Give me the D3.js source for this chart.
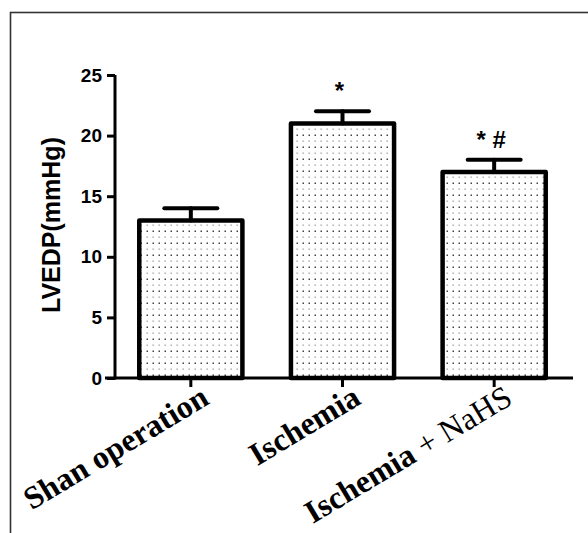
<!DOCTYPE html>
<html>
<head>
<meta charset="utf-8">
<script src="https://cdn.jsdelivr.net/npm/d3@7"></script>
<style>
  body { margin: 0; background: #fff; }
  svg { display: block; }
</style>
</head>
<body>
<div id="chart"></div>
<script>
"use strict";

var groups = ["Shan operation", "Ischemia", "Ischemia + NaHS"];
var means = [13, 21, 17];
var sems = [1, 1, 1];
var marks = ["", "*", "* #"];
var yTicks = [0, 5, 10, 15, 20, 25];

var w = 588,
  h = 533;

var svg = d3.select("#chart").append("svg")
  .attr("width", w)
  .attr("height", h);

//dotted fill like the prism bars
var defs = svg.append("defs");
var pat = defs.append("pattern")
  .attr("id", "dots")
  .attr("patternUnits", "userSpaceOnUse")
  .attr("width", 6)
  .attr("height", 12);
pat.append("rect").attr("width", 6).attr("height", 12).attr("fill", "#fff");
pat.append("rect").attr("x", 2.5).attr("y", 2.5).attr("width", 1.5).attr("height", 1.5).attr("fill", "#444");
pat.append("rect").attr("x", 2.5).attr("y", 8.5).attr("width", 1.3).attr("height", 1.3).attr("fill", "#999");

//outer frame
svg.append("rect")
  .attr("x", 10.5)
  .attr("y", 12.5)
  .attr("width", 600)
  .attr("height", 600)
  .attr("fill", "none")
  .attr("stroke", "#333")
  .attr("stroke-width", 1.6);

var x0 = 115, x1 = 570, yBase = 378, yTop = 75;

var x = d3.scaleBand().domain(groups).range([x0, x1]).paddingInner(0.32).paddingOuter(0.16);
var y = d3.scaleLinear().domain([0, 25]).range([yBase, yTop]);

//bars
svg.append("g").selectAll("rect")
  .data(groups)
  .enter().append("rect")
  .attr("x", function(d) { return x(d); })
  .attr("y", function(d, i) { return y(means[i]); })
  .attr("width", x.bandwidth())
  .attr("height", function(d, i) { return yBase - y(means[i]); })
  .attr("fill", "url(#dots)")
  .attr("stroke", "#000")
  .attr("stroke-width", 4.5)
  .attr("stroke-linejoin", "round");

//error bars (upper only)
var capW = 53;
var eb = svg.append("g").attr("stroke", "#000").attr("stroke-width", 4).attr("stroke-linecap", "round");
groups.forEach(function(d, i) {
  var cx = x(d) + x.bandwidth() / 2;
  eb.append("line")
    .attr("x1", cx).attr("x2", cx)
    .attr("y1", y(means[i])).attr("y2", y(means[i] + sems[i]));
  eb.append("line")
    .attr("x1", cx - capW / 2).attr("x2", cx + capW / 2)
    .attr("y1", y(means[i] + sems[i])).attr("y2", y(means[i] + sems[i]));
});

//significance marks
svg.append("g").selectAll("text")
  .data(groups)
  .enter().append("text")
  .attr("x", function(d) { return x(d) + x.bandwidth() / 2 - 3; })
  .attr("y", function(d, i) { return y(means[i] + sems[i]) - 12; })
  .attr("text-anchor", "middle")
  .style("font-family", "Liberation Sans, Arial, sans-serif")
  .style("font-weight", "bold")
  .style("font-size", "24px")
  .text(function(d, i) { return marks[i]; });

//y axis
var yAxis = svg.append("g")
  .attr("transform", "translate(" + x0 + ",0)")
  .call(d3.axisLeft(y).tickValues(yTicks).tickSize(8).tickPadding(5).tickFormat(d3.format("d")));
yAxis.select(".domain").attr("stroke-width", 3).attr("d", "M0," + yTop + "V" + (yBase + 1.5));
yAxis.selectAll(".tick line").attr("stroke-width", 3);
yAxis.selectAll(".tick text")
  .style("font-family", "Liberation Sans, Arial, sans-serif")
  .style("font-weight", "bold")
  .style("font-size", "19px")
  .attr("fill", "#000");

//x axis
var xAxis = svg.append("g")
  .attr("transform", "translate(0," + yBase + ")")
  .call(d3.axisBottom(x).tickSize(9).tickFormat(""));
xAxis.select(".domain").attr("stroke-width", 3).attr("d", "M" + (x0 - 10) + ",0H573");
xAxis.selectAll(".tick line").attr("stroke-width", 3);

//rotated category labels
var lab = svg.append("g").selectAll("text")
  .data(groups)
  .enter().append("text")
  .attr("text-anchor", "end")
  .attr("transform", function(d) {
    var cx = x(d) + x.bandwidth() / 2;
    return "translate(" + (cx + 20) + "," + 403 + ") rotate(-31)";
  })
  .style("font-family", "Liberation Serif, Times New Roman, serif")
  .style("font-size", "32px")
  .attr("fill", "#000");

lab.each(function(d) {
  var t = d3.select(this);
  var parts = d.split(" + ");
  t.append("tspan").style("font-weight", "bold").text(parts[0]);
  if (parts.length > 1) {
    t.append("tspan").style("font-weight", "normal").text(" + " + parts[1]);
  }
});

//y axis title
svg.append("text")
  .attr("transform", "translate(60,225) rotate(-90)")
  .attr("text-anchor", "middle")
  .style("font-family", "Liberation Sans, Arial, sans-serif")
  .style("font-weight", "bold")
  .style("font-size", "25px")
  .text("LVEDP(mmHg)");
</script>
</body>
</html>
